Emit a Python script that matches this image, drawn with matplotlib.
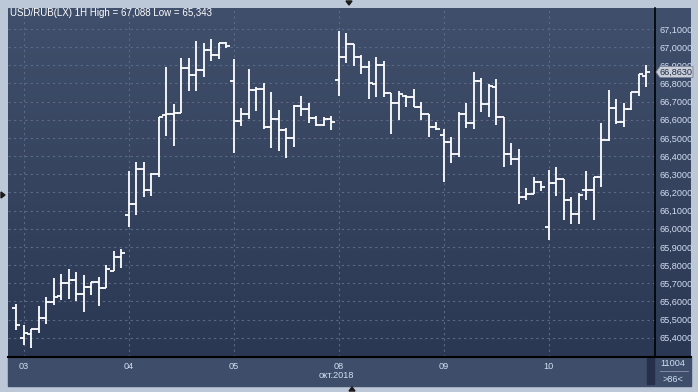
import numpy as np
import matplotlib
matplotlib.use("Agg")
import matplotlib.pyplot as plt
from matplotlib.patches import Rectangle, Polygon
from matplotlib.colors import LinearSegmentedColormap

title = "USD/RUB(LX) 1H High = 67,088 Low = 65,343"
day_labels = ["03", "04", "05", "08", "09", "10"]
day_starts = [1, 15, 29, 43, 57, 71]
month_label = "окт.2018"
last_price = 66.863
bar_count_label = "11004"
zoom_label = ">86<"

# hourly OHLC
opens = [65.564, 65.398, 65.420, 65.448, 65.509, 65.597, 65.630, 65.701, 65.718, 65.641,
         65.679, 65.707, 65.674, 65.767, 65.844, 66.076, 66.136, 66.329, 66.213, 66.302,
         66.626, 66.632, 66.637, 66.885, 66.847, 66.874, 66.984, 66.957, 67.023, 66.814,
         66.593, 66.632, 66.764, 66.770, 66.560, 66.604, 66.544, 66.500, 66.676, 66.659,
         66.610, 66.571, 66.604, 66.819, 66.946, 67.017, 66.946, 66.891, 66.797, 66.902,
         66.748, 66.692, 66.731, 66.726, 66.671, 66.632, 66.560, 66.516, 66.478, 66.412,
         66.632, 66.582, 66.814, 66.687, 66.781, 66.615, 66.412, 66.384, 66.175, 66.191,
         66.257, 66.010, 66.252, 66.274, 66.158, 66.081, 66.213, 66.213, 66.285, 66.489,
         66.665, 66.588, 66.659, 66.753, 66.841]
highs = [65.586, 65.470, 65.448, 65.575, 65.624, 65.729, 65.751, 65.778, 65.762, 65.745,
         65.707, 65.734, 65.800, 65.877, 65.888, 66.318, 66.368, 66.368, 66.307, 66.615,
         66.891, 66.687, 66.940, 66.940, 67.034, 67.023, 67.045, 67.023, 67.028, 66.935,
         66.665, 66.880, 66.781, 66.803, 66.753, 66.654, 66.555, 66.681, 66.731, 66.692,
         66.621, 66.615, 66.621, 67.088, 67.078, 67.017, 66.957, 66.924, 66.946, 66.924,
         66.748, 66.759, 66.737, 66.770, 66.698, 66.632, 66.588, 66.549, 66.505, 66.643,
         66.692, 66.863, 66.830, 66.797, 66.825, 66.615, 66.472, 66.439, 66.224, 66.285,
         66.263, 66.324, 66.340, 66.274, 66.175, 66.197, 66.318, 66.285, 66.582, 66.764,
         66.715, 66.692, 66.753, 66.852, 66.902]
lows = [65.442, 65.360, 65.343, 65.426, 65.475, 65.580, 65.608, 65.613, 65.602, 65.542,
        65.635, 65.575, 65.674, 65.767, 65.784, 66.010, 66.076, 66.175, 66.180, 66.285,
        66.511, 66.456, 66.637, 66.759, 66.759, 66.836, 66.924, 66.935, 66.995, 66.417,
        66.566, 66.604, 66.648, 66.549, 66.445, 66.428, 66.390, 66.450, 66.621, 66.582,
        66.566, 66.566, 66.544, 66.731, 66.913, 66.896, 66.852, 66.715, 66.726, 66.726,
        66.522, 66.599, 66.671, 66.671, 66.599, 66.505, 66.544, 66.257, 66.362, 66.395,
        66.555, 66.549, 66.643, 66.615, 66.571, 66.340, 66.351, 66.136, 66.158, 66.191,
        66.208, 65.938, 66.180, 66.048, 66.026, 66.026, 66.158, 66.048, 66.230, 66.483,
        66.577, 66.560, 66.654, 66.731, 66.781]
closes = [65.470, 65.426, 65.448, 65.509, 65.597, 65.624, 65.701, 65.718, 65.641, 65.679,
          65.707, 65.674, 65.778, 65.844, 65.866, 66.136, 66.329, 66.213, 66.302, 66.615,
          66.632, 66.637, 66.885, 66.847, 66.874, 66.984, 66.957, 67.023, 67.006, 66.593,
          66.632, 66.764, 66.770, 66.560, 66.604, 66.544, 66.500, 66.676, 66.659, 66.610,
          66.571, 66.604, 66.588, 66.946, 67.017, 66.946, 66.891, 66.803, 66.902, 66.748,
          66.692, 66.742, 66.726, 66.671, 66.632, 66.560, 66.549, 66.478, 66.412, 66.632,
          66.582, 66.814, 66.687, 66.786, 66.615, 66.412, 66.384, 66.175, 66.191, 66.257,
          66.230, 66.252, 66.274, 66.158, 66.081, 66.186, 66.213, 66.285, 66.489, 66.665,
          66.588, 66.659, 66.753, 66.852, 66.863]

levels = np.round(np.arange(65.4, 67.1001, 0.1), 1)

W, H = 698, 392
fig = plt.figure(figsize=(W / 100, H / 100), dpi=100, facecolor="#bcc7d7")
plt.rcParams["font.family"] = ["Liberation Sans", "DejaVu Sans"]


def box(x0, y0, x1, y1):
    return [x0 / W, 1 - y1 / H, (x1 - x0) / W, (y1 - y0) / H]


def fx(px):
    return px / W


def fy(py):
    return 1 - py / H


# gradient behind plot and price scale
bg = fig.add_axes(box(8, 8, 691, 357))
bg.set_zorder(1)
cmap = LinearSegmentedColormap.from_list("bg", ["#404f6b", "#2b3853"])
bg.imshow(np.linspace(0, 1, 256).reshape(-1, 1), cmap=cmap, aspect="auto",
          extent=(0, 1, 0, 1))
bg.set_axis_off()

# bottom time scale strip
fig.patches.append(Rectangle((fx(8), fy(386)), (691 - 8) / W, (386 - 357) / H,
                             transform=fig.transFigure, color="#3e4d69", zorder=-2))
fig.patches.append(Rectangle((fx(647), fy(384)), 7 / W, 26 / H,
                             transform=fig.transFigure, color="#26304a", zorder=-1))

ax = fig.add_axes(box(8, 8, 655, 357))
ax.set_zorder(3)
ax.set_facecolor("none")
n = len(opens)
x = np.arange(n)
ax.vlines(x, lows, highs, colors="white", lw=1.3, zorder=3)
ax.hlines(opens, x - 0.5, x, colors="white", lw=1.3, zorder=3, capstyle="butt")
ax.hlines(closes, x, x + 0.55, colors="white", lw=1.3, zorder=3, capstyle="butt")

ax.set_xlim(-1.07, 85.2)
ax.set_ylim(65.2938, 67.2156)

ax.set_yticks(levels)
ax.set_yticklabels([f"{v:.4f}".replace(".", ",") for v in levels])
ax.yaxis.tick_right()
ax.set_xticks(day_starts)
ax.set_xticklabels(day_labels)
ax.tick_params(axis="y", length=0, pad=3, labelsize=6.6, labelcolor="#d2def2")
ax.tick_params(axis="x", length=0, pad=3.5, labelsize=6.6, labelcolor="#d2def2")
ax.grid(True, color="#5b6a86", lw=0.8, linestyle=(0, (2, 3)), zorder=1)
for s in ["top", "left"]:
    ax.spines[s].set_visible(False)
ax.spines["right"].set_color("black")
ax.spines["bottom"].set_color("black")
ax.spines["right"].set_linewidth(1.2)
ax.spines["bottom"].set_linewidth(1.5)

# line under bottom strip to the right edge
fig.add_artist(plt.Line2D([fx(655), fx(691)], [fy(357), fy(357)], color="black", lw=1.5,
                          zorder=4))

fig.text(fx(10), fy(13), title, ha="left", va="center", fontsize=7, color="white", zorder=5)
fig.text(fx(336), fy(376), month_label, ha="center", va="center", fontsize=6.6,
         color="#d2def2", zorder=5)

# last price marker
py = 29 + (67.1 - last_price) * 181.6
fig.patches.append(Polygon([(fx(656), fy(py)), (fx(660), fy(py - 5.5)), (fx(693), fy(py - 5.5)),
                            (fx(693), fy(py + 5.5)), (fx(660), fy(py + 5.5))],
                           closed=True, transform=fig.transFigure, facecolor="#c9ced8",
                           edgecolor="#7d8699", lw=0.6, zorder=5))
fig.text(fx(676), fy(py), f"{last_price:.4f}".replace(".", ","), ha="center", va="center",
         fontsize=6.6, color="#1f2a44", zorder=6)

# bottom right box
fig.text(fx(673), fy(364), bar_count_label, ha="center", va="center", fontsize=6.6,
         color="#d2def2", zorder=5)
fig.add_artist(plt.Line2D([fx(660), fx(688)], [fy(371), fy(371)], color="#8894aa", lw=0.6,
                          zorder=5))
fig.text(fx(673), fy(379), zoom_label, ha="center", va="center", fontsize=6.6,
         color="#d2def2", zorder=5)

# small markers on the frame
for pts in ([(346, 1), (352, 1), (349, 5)], [(1, 192), (1, 198), (5, 195)],
            [(349, 391), (355, 391), (352, 387)]):
    fig.patches.append(Polygon([(fx(a), fy(b)) for a, b in pts], closed=True,
                               transform=fig.transFigure, color="#1a1a1a", zorder=5))

fig.savefig("out.png", dpi=100, facecolor=fig.get_facecolor())
